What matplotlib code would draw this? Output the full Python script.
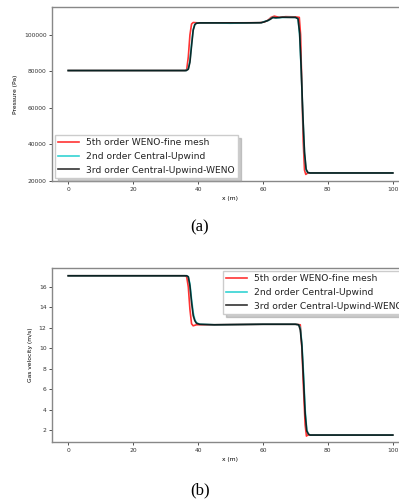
import matplotlib
matplotlib.use("Agg")
import matplotlib.pyplot as plt

labels = ["5th order WENO-fine mesh", "2nd order Central-Upwind", "3rd order Central-Upwind-WENO"]
colors = ["#ff0000", "#00c8c8", "#000000"]

# Pressure (Pa)
p_red_x = [0, 36.0, 36.5, 37.0, 37.5, 38.0, 38.5, 40, 50, 59, 60.5, 61.5, 62.5, 63.5, 65, 67, 70, 71.2, 71.6, 72.0, 72.4, 72.8, 73.2, 73.8, 100]
p_red_y = [80500, 80500, 81000, 88000, 100000, 106000, 106800, 106600, 106600, 106700, 107200, 108000, 109600, 110300, 109600, 110000, 109900, 109600, 100000, 70000, 42000, 26000, 23600, 24400, 24400]

p_cyan_x = [0, 36.3, 37.0, 37.5, 38.0, 38.5, 39.0, 39.5, 40.5, 45, 50, 55, 59.5, 60.5, 61.5, 62.3, 63.0, 64, 66, 68, 70, 70.8, 71.3, 71.8, 72.3, 72.8, 73.3, 73.8, 74.5, 100]
p_cyan_y = [80500, 80500, 81500, 86000, 95000, 103000, 105800, 106400, 106600, 106600, 106400, 106600, 106700, 107400, 107800, 108800, 109600, 109300, 109600, 109700, 109600, 108800, 100000, 80000, 55000, 35000, 26000, 24600, 24400, 24400]

p_black_x = [0, 36.4, 37.0, 37.5, 38.0, 38.5, 39.0, 39.5, 40.5, 45, 50, 55, 59.5, 60.5, 61.5, 62.3, 63.0, 64, 66, 68, 70, 70.8, 71.3, 71.8, 72.3, 72.8, 73.3, 73.8, 74.5, 100]
p_black_y = [80500, 80500, 81200, 85000, 94000, 102500, 105600, 106400, 106600, 106600, 106600, 106600, 106700, 107200, 107900, 108600, 109500, 109400, 109700, 109600, 109600, 108900, 101000, 81000, 56000, 36000, 26500, 24700, 24400, 24400]

# Gas velocity (m/s)
u_red_x = [0, 36.0, 36.5, 37.0, 37.5, 38.0, 38.5, 39.5, 45, 60, 70, 71.5, 72.0, 72.5, 73.0, 73.4, 73.8, 100]
u_red_y = [17.1, 17.1, 17.0, 16.0, 13.8, 12.4, 12.2, 12.3, 12.3, 12.35, 12.35, 12.3, 10.0, 6.0, 2.5, 1.4, 1.5, 1.5]

u_cyan_x = [0, 36.5, 37.0, 37.5, 38.0, 38.5, 39.0, 39.5, 40.5, 45, 60, 70, 71.0, 71.5, 72.0, 72.5, 73.0, 73.5, 74.0, 74.5, 100]
u_cyan_y = [17.1, 17.1, 17.0, 16.3, 14.8, 13.5, 12.8, 12.5, 12.35, 12.3, 12.35, 12.35, 12.3, 12.0, 10.5, 7.5, 4.0, 2.0, 1.6, 1.5, 1.5]

u_black_x = [0, 36.5, 37.0, 37.5, 38.0, 38.5, 39.0, 39.5, 40.5, 45, 60, 70, 71.0, 71.5, 72.0, 72.5, 73.0, 73.5, 74.0, 74.5, 100]
u_black_y = [17.1, 17.1, 17.0, 16.1, 14.5, 13.2, 12.7, 12.45, 12.35, 12.3, 12.35, 12.35, 12.3, 11.8, 10.2, 7.0, 3.6, 1.9, 1.6, 1.5, 1.5]

p_yticks = [20000, 40000, 60000, 80000, 100000]
u_yticks = [2, 4, 6, 8, 10, 12, 14, 16]
x_ticks = [0, 20, 40, 60, 80, 100]

W, H = 399, 504
fig = plt.figure(figsize=(W / 100, H / 100), dpi=100)

def frac(l, r, t, b):
    return [l / W, 1 - b / H, (r - l) / W, (b - t) / H]

ax1 = fig.add_axes(frac(52, 409, 7, 181))
ax2 = fig.add_axes(frac(52, 409, 268, 442))

for ax in (ax1, ax2):
    for sp in ax.spines.values():
        sp.set_color("#888888")
        sp.set_linewidth(1.0)
    ax.tick_params(labelsize=4.3, length=2, width=0.6, colors="#333333", pad=2)
    ax.set_xlim(-5, 105)
    ax.set_xticks(x_ticks)

series_p = [(p_red_x, p_red_y), (p_cyan_x, p_cyan_y), (p_black_x, p_black_y)]
series_u = [(u_red_x, u_red_y), (u_cyan_x, u_cyan_y), (u_black_x, u_black_y)]

for (xs, ys), c, lab in zip(series_p, colors, labels):
    ax1.plot(xs, ys, color=c, lw=1.2, alpha=0.8, label=lab)
for (xs, ys), c, lab in zip(series_u, colors, labels):
    ax2.plot(xs, ys, color=c, lw=1.2, alpha=0.8, label=lab)

ax1.set_ylim(20000, 115300)
ax1.set_yticks(p_yticks)
ax2.set_ylim(0.82, 17.86)
ax2.set_yticks(u_yticks)

ax1.set_ylabel("Pressure (Pa)", fontsize=4.3, labelpad=4)
ax1.set_xlabel("x (m)", fontsize=4.3, labelpad=3)
ax2.set_ylabel("Gas velocity (m/s)", fontsize=4.3, labelpad=4)
ax2.set_xlabel("x (m)", fontsize=4.3, labelpad=3)

shadow = {"color": "0.6", "alpha": 0.5}
for ax, loc in ((ax1, "lower left"), (ax2, "upper right")):
    leg = ax.legend(loc=loc, fontsize=6.6, shadow=shadow, fancybox=False, framealpha=1,
                    handlelength=2.2, borderaxespad=0.3, edgecolor="#cccccc")
    for t in leg.get_texts():
        t.set_color("#222222")

fig.text(200 / W, 1 - 227 / H, "(a)", ha="center", va="center", fontsize=12, family="Liberation Serif")
fig.text(200 / W, 1 - 490 / H, "(b)", ha="center", va="center", fontsize=12, family="Liberation Serif")

fig.savefig("out.png", dpi=100)
